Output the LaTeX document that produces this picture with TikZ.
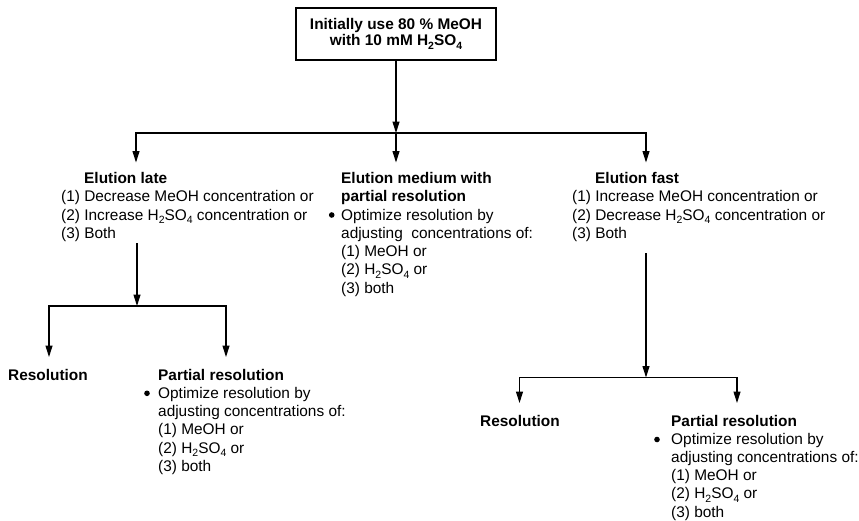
\documentclass[tikz,border=0pt]{standalone}
\usepackage{fontspec}
\setmainfont{Liberation Sans}
\usetikzlibrary{arrows.meta}
\newcommand{\chsub}[1]{\raisebox{-3.5pt}{\fontsize{10.5}{10}\selectfont #1}}
\newcommand{\fst}{\rule{0pt}{12pt}}
\begin{document}
\begin{tikzpicture}[x=1pt,y=1pt,
  txt/.style={anchor=north west, inner sep=0pt, align=left, font=\fontsize{15.4}{18.2}\selectfont},
  hd/.style={txt, font=\fontsize{15.4}{18.2}\selectfont\bfseries},
  ln/.style={line width=1.1pt},
  arr/.style={ln, -{Triangle[length=11.5pt,width=7pt]}},
  dotmark/.style={fill=black}]
\useasboundingbox (0,0) rectangle (859,-520);

% top box
\node[draw, ln, minimum width=200pt, minimum height=52pt, inner sep=0pt, align=center,
      font=\fontsize{15.4}{16.3}\selectfont\bfseries] (init) at (396,-34)
      {Initially use 80 \% MeOH\\with 10 mM H\chsub{2}SO\chsub{4}};

% level 2 texts
\node[hd] (lateHd) at (84,-171.3) {\fst Elution late};
\node[txt] (lateBody) at (61,-189.7) {\fst(1) Decrease MeOH concentration or\\(2) Increase H\chsub{2}SO\chsub{4} concentration or\\(3) Both};

\node[hd] (medHd) at (341,-171.3) {\fst Elution medium with\\partial resolution};
\node[txt] (medBody) at (341,-208) {\fst Optimize resolution by\\adjusting~~concentrations of:\\(1) MeOH or\\(2) H\chsub{2}SO\chsub{4} or\\(3) both};
\fill[dotmark] (331.7,-215) circle[radius=2.8pt];

\node[hd] (fastHd) at (595,-171.3) {\fst Elution fast};
\node[txt] (fastBody) at (572,-189.7) {\fst(1) Increase MeOH concentration or\\(2) Decrease H\chsub{2}SO\chsub{4} concentration or\\(3) Both};

% level 3 left
\node[hd] (resL) at (8,-368) {\fst Resolution};
\node[hd] (partL) at (158,-368) {\fst Partial resolution};
\node[txt] (partLBody) at (158,-386.3) {\fst Optimize resolution by\\adjusting concentrations of:\\(1) MeOH or\\(2) H\chsub{2}SO\chsub{4} or\\(3) both};
\fill[dotmark] (147,-393.3) circle[radius=2.8pt];

% level 3 right
\node[hd] (resR) at (480,-414) {\fst Resolution};
\node[hd] (partR) at (671,-414) {\fst Partial resolution};
\node[txt] (partRBody) at (671,-432) {\fst Optimize resolution by\\adjusting concentrations of:\\(1) MeOH or\\(2) H\chsub{2}SO\chsub{4} or\\(3) both};
\fill[dotmark] (657,-439.5) circle[radius=2.8pt];

% junctions and arrow ends
\coordinate (j0) at (396,-133);
\coordinate (tl) at (136,-162.5);
\coordinate (tm) at (396,-162.5);
\coordinate (tr) at (646,-162.5);
\coordinate (ls) at (137,-243);
\coordinate (lj) at (137,-306);
\coordinate (lrl) at (49,-357);
\coordinate (lrp) at (226,-357);
\coordinate (rs) at (646,-253);
\coordinate (rj) at (646,-377.5);
\coordinate (rrl) at (519.5,-403);
\coordinate (rrp) at (737,-403);

\draw[arr] (init.south) -- (j0);
\draw[arr] (j0) -| (tl);
\draw[arr] (j0) -| (tr);
\draw[arr] (j0) -- (tm);

\draw[arr] (ls) -- (lj);
\draw[arr] (lj) -| (lrl);
\draw[arr] (lj) -| (lrp);

\draw[arr] (rs) -- (rj);
\draw[arr] (rj) -| (rrl);
\draw[arr] (rj) -| (rrp);
\end{tikzpicture}
\end{document}
